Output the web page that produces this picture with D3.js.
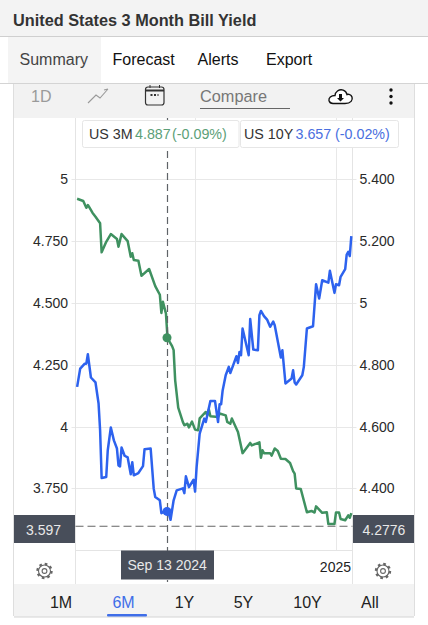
<!DOCTYPE html>
<html><head><meta charset="utf-8">
<script src="https://cdn.jsdelivr.net/npm/d3@7/dist/d3.min.js"></script>
<style>html,body{margin:0;padding:0;background:#fff}svg{display:block;font-family:"Liberation Sans",Arial,sans-serif}</style>
</head><body><div id="c"></div>
<script>
const title = "United States 3 Month Bill Yield";
const tabs = ["Summary","Forecast","Alerts","Export"];
const ranges = ["1M","6M","1Y","5Y","10Y","All"];
const leftTicks = [3.75,4,4.25,4.5,4.75,5];
const leftLabels = ["3.750","4","4.250","4.500","4.750","5"];
const rightTicks = [4.4,4.6,4.8,5,5.2,5.4];
const rightLabels = ["4.400","4.600","4.800","5","5.200","5.400"];
const crossDate = "2024-09-13";
const crossLeft = 3.597, crossRight = 4.2776;
const us3mNow = 4.887, us10yNow = 3.657;
const us3m = [["2024-07-16",5.336],["2024-07-20",5.329],["2024-07-22",5.307],["2024-07-23",5.316],["2024-07-24",5.308],["2024-07-26",5.291],["2024-07-28",5.278],["2024-07-31",5.257],["2024-08-01",5.163],["2024-08-04",5.197],["2024-08-07",5.222],["2024-08-11",5.206],["2024-08-12",5.181],["2024-08-14",5.222],["2024-08-18",5.199],["2024-08-20",5.149],["2024-08-21",5.16],["2024-08-22",5.138],["2024-08-25",5.136],["2024-08-27",5.087],["2024-09-01",5.109],["2024-09-05",5.054],["2024-09-08",5.026],["2024-09-09",4.967],["2024-09-10",5.003],["2024-09-12",4.965],["2024-09-13",4.887],["2024-09-14",4.877],["2024-09-16",4.86],["2024-09-17",4.847],["2024-09-18",4.75],["2024-09-20",4.661],["2024-09-23",4.615],["2024-09-24",4.604],["2024-09-26",4.609],["2024-09-27",4.597],["2024-09-29",4.616],["2024-10-01",4.59],["2024-10-03",4.588],["2024-10-04",4.626],["2024-10-08",4.647],["2024-10-09",4.636],["2024-10-10",4.655],["2024-10-11",4.633],["2024-10-16",4.631],["2024-10-17",4.642],["2024-10-21",4.636],["2024-10-22",4.615],["2024-10-24",4.609],["2024-10-25",4.626],["2024-10-29",4.582],["2024-11-01",4.514],["2024-11-06",4.547],["2024-11-07",4.539],["2024-11-12",4.549],["2024-11-13",4.499],["2024-11-14",4.523],["2024-11-15",4.514],["2024-11-19",4.514],["2024-11-20",4.506],["2024-11-22",4.529],["2024-11-24",4.521],["2024-11-26",4.496],["2024-11-29",4.495],["2024-12-02",4.482],["2024-12-04",4.456],["2024-12-05",4.448],["2024-12-06",4.4],["2024-12-09",4.398],["2024-12-13",4.323],["2024-12-16",4.327],["2024-12-18",4.322],["2024-12-19",4.342],["2024-12-23",4.321],["2024-12-26",4.323],["2024-12-27",4.285],["2024-12-31",4.285],["2025-01-01",4.322],["2025-01-03",4.322],["2025-01-04",4.301],["2025-01-07",4.297],["2025-01-09",4.313],["2025-01-10",4.305],["2025-01-11",4.32]];
const us10y = [["2024-07-16",4.16],["2024-07-18",4.234],["2024-07-21",4.254],["2024-07-22",4.254],["2024-07-23",4.292],["2024-07-25",4.198],["2024-07-28",4.178],["2024-07-30",4.093],["2024-07-31",3.985],["2024-08-01",3.792],["2024-08-04",3.796],["2024-08-05",3.904],["2024-08-07",3.996],["2024-08-09",3.944],["2024-08-11",3.911],["2024-08-12",3.843],["2024-08-13",3.839],["2024-08-14",3.915],["2024-08-16",3.882],["2024-08-18",3.875],["2024-08-20",3.807],["2024-08-21",3.856],["2024-08-22",3.803],["2024-08-25",3.812],["2024-08-28",3.84],["2024-08-29",3.908],["2024-09-02",3.911],["2024-09-04",3.749],["2024-09-05",3.715],["2024-09-08",3.702],["2024-09-09",3.65],["2024-09-12",3.661],["2024-09-13",3.657],["2024-09-14",3.645],["2024-09-15",3.623],["2024-09-17",3.702],["2024-09-19",3.742],["2024-09-23",3.75],["2024-09-24",3.731],["2024-09-25",3.799],["2024-09-27",3.755],["2024-09-30",3.785],["2024-10-01",3.737],["2024-10-02",3.836],["2024-10-04",3.971],["2024-10-07",4.032],["2024-10-08",4.018],["2024-10-11",4.103],["2024-10-14",4.103],["2024-10-16",4.018],["2024-10-17",4.09],["2024-10-18",4.09],["2024-10-19",4.146],["2024-10-21",4.207],["2024-10-23",4.241],["2024-10-24",4.216],["2024-10-28",4.284],["2024-10-29",4.257],["2024-10-30",4.301],["2024-10-31",4.288],["2024-11-01",4.396],["2024-11-05",4.288],["2024-11-06",4.434],["2024-11-08",4.311],["2024-11-11",4.308],["2024-11-12",4.45],["2024-11-13",4.467],["2024-11-15",4.446],["2024-11-17",4.432],["2024-11-19",4.403],["2024-11-21",4.424],["2024-11-22",4.409],["2024-11-26",4.279],["2024-11-27",4.308],["2024-11-29",4.174],["2024-12-03",4.194],["2024-12-04",4.227],["2024-12-05",4.178],["2024-12-06",4.17],["2024-12-10",4.207],["2024-12-11",4.241],["2024-12-13",4.396],["2024-12-17",4.405],["2024-12-19",4.575],["2024-12-21",4.517],["2024-12-23",4.591],["2024-12-27",4.581],["2024-12-28",4.629],["2024-12-31",4.54],["2025-01-01",4.575],["2025-01-03",4.571],["2025-01-04",4.605],["2025-01-07",4.636],["2025-01-08",4.695],["2025-01-09",4.706],["2025-01-10",4.689],["2025-01-11",4.769]];

const W=428,H=625;
const PL=75.5,PR=352.5,PB=550.5;
const BLUE="#2d62ee",GREEN="#3f9160",DARK="#484e5a",GRID="#e8e8e8";
const parse=d3.utcParse("%Y-%m-%d");
const x=d3.scaleUtc().domain([parse("2024-09-13"),parse("2025-01-01")]).range([167.5,336]);
const yL=d3.scaleLinear().domain([3.75,5]).range([488.4,179]);
const yR=d3.scaleLinear().domain([4.4,5.4]).range([488.4,179]);
const svg=d3.select("#c").append("svg").attr("width",W).attr("height",H);
const rect=(a,b,w,h,f)=>svg.append("rect").attr("x",a).attr("y",b).attr("width",w).attr("height",h).attr("fill",f);
const hl=(x1,y1,x2,y2,c,dash,sw)=>svg.append("line").attr("x1",x1).attr("y1",y1).attr("x2",x2).attr("y2",y2).attr("stroke",c).attr("stroke-width",sw||1).attr("stroke-dasharray",dash||null);
const txt=(s,a,b,size,col,anchor,weight)=>svg.append("text").attr("x",a).attr("y",b).attr("font-size",size).attr("fill",col).attr("text-anchor",anchor||"start").attr("font-weight",weight||null).text(s);

// header
rect(0,0,W,37,"#f3f3f3");hl(0,36.5,W,36.5,"#cfcfcf");
txt(title,13,25.5,16.3,"#333","start","bold");
rect(8,37,93,46,"#f4f4f4");
hl(0,83.5,W,83.5,"#d4d4d4");
const tabX=[19.5,112.5,197.5,266];
tabs.forEach((t,i)=>txt(t,tabX[i],65,16,i?"#111":"#444"));

// card
rect(14,84,400,34,"#f2f2f2");
rect(14,584,400,33,"#f3f3f3");
hl(14,617,414,617,"#d4d4d4");
hl(13.5,84,13.5,616,"#dedede");hl(414.5,84,414.5,616,"#dedede");

// toolbar
txt("1D",31,101.5,16,"#9a9a9a");
svg.append("path").attr("d","M88 103L96 95L100 98L108 89M104 90L108 89").attr("fill","none").attr("stroke","#9a9a9a").attr("stroke-width",1.1);
svg.append("rect").attr("x",145.5).attr("y",87).attr("width",18.5).attr("height",18).attr("rx",2.5).attr("fill","none").attr("stroke","#333").attr("stroke-width",1.2);
hl(146,90.5,164,90.5,"#333",null,2);
hl(150,85,150,88,"#333");hl(159.5,85,159.5,88,"#333");
hl(150.5,95,158.5,95,"#333","2 1.5",2);
txt("Compare",200,101.5,16.3,"#777");
hl(200,108.5,290,108.5,"#666");
svg.append("path").attr("d","M333 103.5H345C351 103.5 353 100 352 97C351 94.5 348.5 94 347 94.5C346 90 341 88.5 337.5 91C335.5 92.5 335 94 335 95.5C331 95.5 328.5 98 329 100.5C329.5 102.5 331 103.5 333 103.5Z").attr("fill","#fff").attr("stroke","#111").attr("stroke-width",1.4);
svg.append("path").attr("d","M339 94V98H337L340.5 101.5L344 98H342V94Z").attr("fill","#111");
[90,96.5,103].forEach(v=>svg.append("circle").attr("cx",391).attr("cy",v).attr("r",1.7).attr("fill","#111"));

// grid
leftTicks.forEach(t=>hl(PL-4,Math.round(yL(t))+.5,PR+4,Math.round(yL(t))+.5,GRID));
[parse("2024-10-01"),parse("2025-01-01")].forEach(d=>hl(Math.round(x(d))+.5,118,Math.round(x(d))+.5,PB,GRID));
hl(PL,118,PL,584,"#e4e4e4");hl(PR,118,PR,584,"#e4e4e4");
hl(PL,PB,PR,PB,"#e4e4e4");

// axes
const axL=d3.axisLeft(yL).tickValues(leftTicks).tickSize(0).tickPadding(0).tickFormat((d,i)=>leftLabels[i]);
const axR=d3.axisRight(yR).tickValues(rightTicks).tickSize(0).tickPadding(0).tickFormat((d,i)=>rightLabels[i]);
const gL=svg.append("g").attr("transform","translate(68,0)").call(axL);
const gR=svg.append("g").attr("transform","translate(359.5,0)").call(axR);
[gL,gR].forEach(g=>{g.select(".domain").remove();g.selectAll("text").attr("font-size",14).attr("font-family","Liberation Sans").attr("fill","#2a2a2a");});
txt("2025",351,572,14,"#222","end");

// series
const line=(y)=>d3.line().x(d=>x(parse(d[0]))).y(d=>y(d[1])).curve(d3.curveLinear);
svg.append("path").datum(us3m).attr("d",line(yR)).attr("fill","none").attr("stroke",GREEN).attr("stroke-width",2.5).attr("stroke-linejoin","round");
svg.append("path").datum(us10y).attr("d",line(yL)).attr("fill","none").attr("stroke",BLUE).attr("stroke-width",2.5).attr("stroke-linejoin","round");

// crosshair
const cx=x(parse(crossDate));
hl(cx,118,cx,582,"#5f6368","7 4",1.2);
hl(PL,yL(crossLeft),PR,yL(crossLeft),"#666","8 4",1.1);
svg.append("circle").attr("cx",cx-.5).attr("cy",yR(us3mNow)).attr("r",4.5).attr("fill",GREEN);
svg.append("circle").attr("cx",cx-.5).attr("cy",yL(us10yNow)).attr("r",4.5).attr("fill",BLUE);

// legend
const leg=(a,w,parts)=>{
  svg.append("rect").attr("x",a+.5).attr("y",120.5).attr("width",w).attr("height",27).attr("rx",2).attr("fill","#fff").attr("stroke","#e6e6e6");
  parts.forEach(p=>txt(p[0],p[1],139,14.3,p[2]));
};
leg(82,156.5,[["US 3M",89,"#333"],[d3.format(".3f")(us3mNow),135,"#5d9f78"],["(-0.09%)",172,"#5d9f78"]]);
leg(240,158,[["US 10Y",244,"#333"],[d3.format(".3f")(us10yNow),295.5,"#4a6fe0"],["(-0.02%)",335,"#4a6fe0"]]);

// price labels
rect(14,515,61,28,DARK);rect(353,515,61,28,DARK);
txt(d3.format(".3f")(crossLeft),26,535,14,"#e8e8e8");
txt(d3.format(".4f")(crossRight),362.5,535,14,"#e8e8e8");
rect(121,550.5,93,29,DARK);
txt("Sep 13 2024",127.5,570,14,"#e8e8e8");

// gears
[[44.5,571],[383,571]].forEach(([a,b])=>{
  svg.append("circle").attr("cx",a).attr("cy",b).attr("r",6).attr("fill","none").attr("stroke","#666").attr("stroke-width",1.1);
  svg.append("circle").attr("cx",a).attr("cy",b).attr("r",7).attr("fill","none").attr("stroke","#666").attr("stroke-width",2.4).attr("stroke-dasharray","2.6 2.9");
  svg.append("circle").attr("cx",a).attr("cy",b).attr("r",2.4).attr("fill","none").attr("stroke","#666").attr("stroke-width",1.1);
});

// range buttons
const rX=[61,123.5,184.5,243.5,307.5,370];
ranges.forEach((r,i)=>txt(r,rX[i],608,16,i==1?"#3f6ee8":"#222","middle"));
svg.append("rect").attr("x",107).attr("y",614).attr("width",40).attr("height",2.5).attr("rx",1).attr("fill","#3f6ee8");
</script></body></html>
